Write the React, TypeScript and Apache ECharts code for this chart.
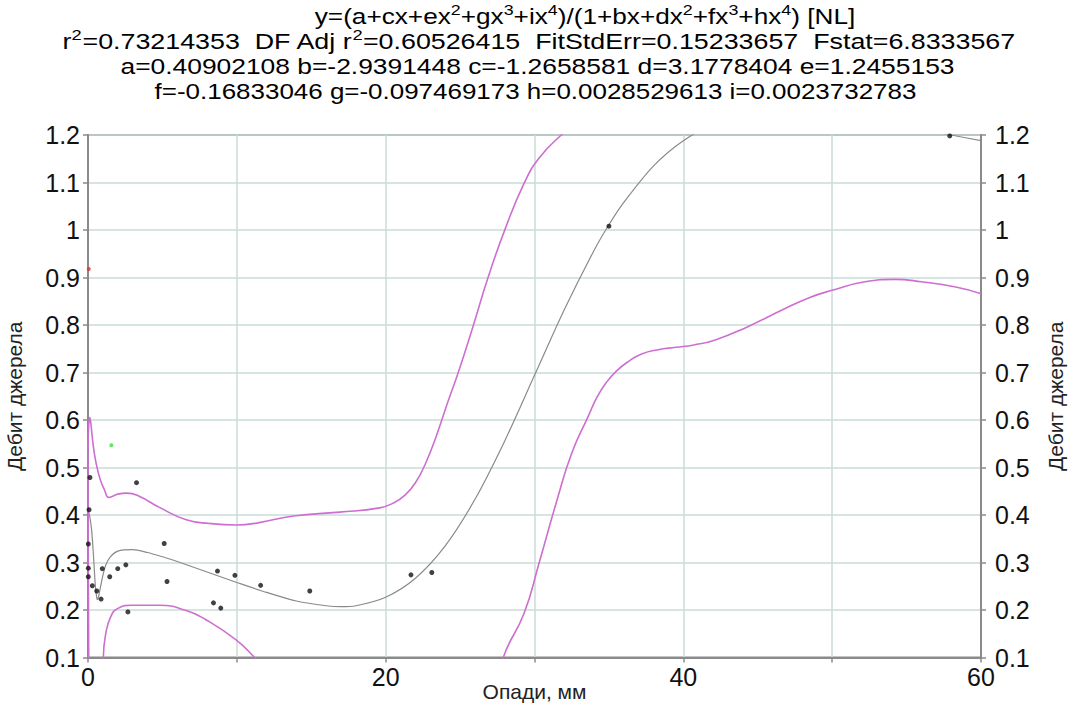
import React, { useEffect, useRef } from "react";
import * as echarts from "echarts";

// Observed points (x = Опади, мм ; y = Дебит джерела)
const observed: [number, number][] = [
  [0.13, 0.479], [0.07, 0.411], [0.02, 0.339], [0.02, 0.288], [0.02, 0.27],
  [0.29, 0.251], [0.59, 0.24], [0.88, 0.223], [0.96, 0.287], [1.46, 0.27],
  [2.0, 0.287], [2.54, 0.295], [2.68, 0.196], [3.26, 0.468], [5.12, 0.34],
  [5.31, 0.26], [8.43, 0.215], [8.7, 0.282], [8.92, 0.204], [9.87, 0.273],
  [11.6, 0.252], [14.9, 0.24], [21.7, 0.274], [23.1, 0.279], [35.0, 1.008],
  [57.9, 1.198],
];
const redPoint: [number, number][] = [[0.05, 0.918]];
const greenPoint: [number, number][] = [[1.57, 0.547]];

// Fitted curve
const fitCurve: [number, number][] = [
  [0, 0.409], [0.1, 0.4], [0.25, 0.366], [0.4, 0.298], [0.5, 0.248], [0.6, 0.224],
  [0.65, 0.222], [0.7, 0.227], [0.8, 0.242], [1, 0.273], [1.2, 0.295], [1.5, 0.312],
  [2, 0.324], [3, 0.327], [4, 0.321], [5, 0.312], [6, 0.302], [8, 0.28], [10, 0.258],
  [12, 0.237], [14, 0.219], [16, 0.209], [17, 0.207], [18, 0.209], [20, 0.227],
  [22, 0.267], [24, 0.335], [26, 0.433], [28, 0.556], [30, 0.694], [32, 0.832],
  [34, 0.957], [35, 1.011], [36, 1.058], [38, 1.135], [40, 1.188], [42, 1.221],
  [45, 1.245], [50, 1.242], [55, 1.218], [58, 1.2], [60, 1.188],
];

// Confidence band (magenta)
const upperBand: [number, number][] = [
  [0, 0.54], [0.05, 0.59], [0.12, 0.605], [0.2, 0.59], [0.3, 0.56], [0.45, 0.525],
  [0.63, 0.497], [0.85, 0.472], [1.08, 0.455], [1.4, 0.437], [1.7, 0.44], [2.0, 0.444],
  [2.6, 0.446], [3.4, 0.44], [4.8, 0.416], [6.6, 0.39], [8.2, 0.382], [10, 0.379],
  [11.5, 0.384], [13.8, 0.398], [16.9, 0.406], [19.6, 0.415], [20.5, 0.425],
  [21.3, 0.442], [22.0, 0.468], [22.7, 0.51], [23.4, 0.566], [24.2, 0.64],
  [24.9, 0.702], [25.9, 0.8], [26.9, 0.902], [28.05, 1.004], [29.3, 1.098],
  [30.3, 1.151], [31.8, 1.2], [33, 1.23],
];
const lowerBandA: [number, number][] = [
  [0, 0.55], [0.02, 0.3], [0.05, 0.1], [0.07, -0.2],
];
const lowerBandB: [number, number][] = [
  [0.95, -0.2], [1.03, 0.1], [1.19, 0.15], [1.53, 0.186], [1.98, 0.203], [2.9, 0.21],
  [4.8, 0.21], [6.6, 0.199], [7.9, 0.18], [9.95, 0.137], [11.2, 0.1], [11.8, 0.08],
];
const lowerBandC: [number, number][] = [
  [27.5, 0.03], [27.9, 0.1], [29.3, 0.193], [30.3, 0.298], [31.5, 0.43], [32.5, 0.53],
  [33.6, 0.607], [34.2, 0.648], [34.8, 0.678], [35.5, 0.703], [36.3, 0.723], [37.2, 0.739],
  [38.3, 0.748], [39.5, 0.753], [40.7, 0.758], [42.1, 0.768], [44.3, 0.796], [46.6, 0.831],
  [48.5, 0.858], [50, 0.873], [52.2, 0.891], [54.2, 0.896], [56, 0.891], [58.3, 0.88],
  [60, 0.866],
];

const xLabelTicks = [0, 20, 40, 60];

const titleLine1 =
  "{n|y=(a+cx+ex}{s|2}{n|+gx}{s|3}{n|+ix}{s|4}{n|)/(1+bx+dx}{s|2}{n|+fx}{s|3}{n|+hx}{s|4}{n|) [NL]}";
const titleLine2 =
  "{n|r}{s|2}{n|=0.73214353  DF Adj r}{s|2}{n|=0.60526415  FitStdErr=0.15233657  Fstat=6.8333567}";
const titleLine3 = "{n|a=0.40902108 b=-2.9391448 c=-1.2658581 d=3.1778404 e=1.2455153}";
const titleLine4 = "{n|f=-0.16833046 g=-0.097469173 h=0.0028529613 i=0.0023732783}";
const titleLines = [titleLine1, titleLine2, titleLine3, titleLine4];

const FONT = "'Liberation Sans', Arial, sans-serif";
const MAGENTA = "#cd6ed0";
const GRID = "#c9dcd8";
const AXIS = "#8a8a8a";

export default function App() {
  const ref = useRef<HTMLDivElement>(null);
  useEffect(() => {
    const chart = echarts.init(ref.current!, null, { renderer: "svg" });
    const rich = {
      n: { fontSize: 22, fontFamily: FONT, fontWeight: "normal", fill: "#000", lineHeight: 25, verticalAlign: "bottom" },
      s: { fontSize: 15, fontFamily: FONT, fontWeight: "normal", fill: "#000", lineHeight: 12, verticalAlign: "top" },
    };
    const yAxisCommon = {
      type: "value",
      min: 0.1,
      max: 1.2,
      interval: 0.1,
      axisLine: { show: true, lineStyle: { color: AXIS, width: 2 } },
      axisTick: { show: true, length: 5, lineStyle: { color: AXIS, width: 1.5 } },
      name: "Дебит джерела",
      nameLocation: "middle",
      nameMoveOverlap: false,
      nameTextStyle: { fontSize: 21, fontFamily: FONT, color: "#222" },
    };
    const yLabel = (margin: number) => ({
      fontSize: 25,
      fontFamily: FONT,
      color: "#111",
      margin,
      formatter: (v: number) => String(Math.round(v * 10) / 10),
    });
    const lineCommon = {
      type: "line",
      showSymbol: false,
      symbol: "none",
      smooth: 0.5,
      clip: true,
      silent: true,
      z: 2,
    };
    const centers = [15, 40, 65, 90];
    const xs = [585, 539, 537.5, 535.5];
    const scales = [1.19, 1.22, 1.2, 1.18];
    chart.setOption({
      animation: false,
      backgroundColor: "#fff",
      graphic: titleLines.map((t, i) => ({
        type: "text",
        x: xs[i],
        y: centers[i],
        scaleX: scales[i],
        silent: true,
        style: {
          text: t,
          rich,
          fontSize: 22,
          fontFamily: FONT,
          fill: "#000",
          align: "center",
          verticalAlign: "middle",
        },
      })),
      grid: {
        left: 88,
        right: 92,
        top: 135,
        bottom: 49.5,
        containLabel: false,
        outerBoundsMode: "none",
        show: true,
        borderColor: AXIS,
        borderWidth: 2,
        backgroundColor: "transparent",
      },
      xAxis: {
        type: "value",
        min: 0,
        max: 60,
        interval: 10,
        axisLine: { show: true, onZero: false, lineStyle: { color: AXIS, width: 2 } },
        axisTick: { show: true, length: 5, lineStyle: { color: AXIS, width: 1.5 } },
        splitLine: { show: true, lineStyle: { color: GRID, width: 1.5 } },
        axisLabel: {
          fontSize: 25,
          fontFamily: FONT,
          color: "#111",
          margin: 7,
          formatter: (v: number) => (xLabelTicks.includes(v) ? String(v) : ""),
        },
        name: "Опади, мм",
        nameLocation: "middle",
        nameGap: 23,
        nameMoveOverlap: false,
        nameTextStyle: { fontSize: 21, fontFamily: FONT, color: "#222", verticalAlign: "top" },
      },
      yAxis: [
        {
          ...yAxisCommon,
          position: "left",
          nameGap: 63,
          axisLabel: yLabel(8),
          splitLine: { show: true, lineStyle: { color: GRID, width: 1.5 } },
        },
        {
          ...yAxisCommon,
          position: "right",
          nameGap: 64,
          nameRotate: 90,
          axisLabel: yLabel(14),
          splitLine: { show: false },
        },
      ],
      series: [
        { ...lineCommon, name: "fit", data: fitCurve, smooth: 0.3, lineStyle: { color: "#8a8a8a", width: 1.2 } },
        { ...lineCommon, name: "upper", data: upperBand, lineStyle: { color: MAGENTA, width: 1.6 } },
        { ...lineCommon, name: "lowerA", data: lowerBandA, smooth: false, lineStyle: { color: MAGENTA, width: 1.6 } },
        { ...lineCommon, name: "lowerB", data: lowerBandB, lineStyle: { color: MAGENTA, width: 1.6 } },
        { ...lineCommon, name: "lowerC", data: lowerBandC, lineStyle: { color: MAGENTA, width: 1.6 } },
        {
          type: "scatter",
          name: "data",
          data: observed,
          symbolSize: 5,
          itemStyle: { color: "#111" },
          z: 3,
          silent: true,
        },
        { type: "scatter", name: "red", data: redPoint, symbolSize: 4, itemStyle: { color: "#e0302a" }, z: 3, silent: true },
        { type: "scatter", name: "green", data: greenPoint, symbolSize: 4, itemStyle: { color: "#3ddc3d" }, z: 3, silent: true },
      ],
    });
    return () => chart.dispose();
  }, []);
  return (
    <div
      ref={ref}
      style={{ position: "absolute", left: 0, top: 0, width: 1073, height: 707, background: "#fff" }}
    />
  );
}
